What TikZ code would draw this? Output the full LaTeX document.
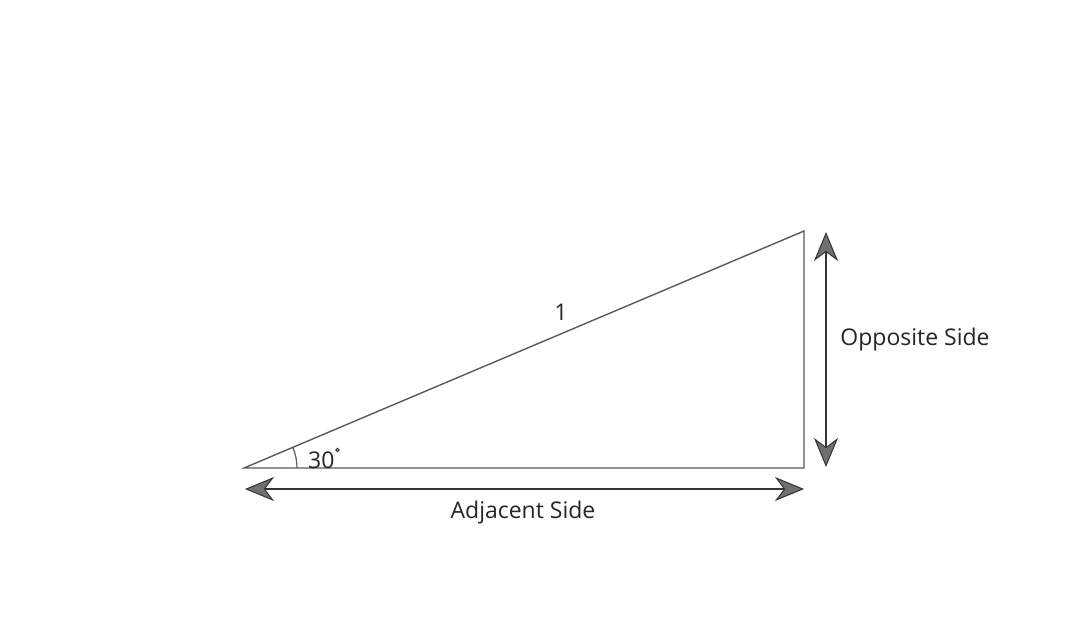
\documentclass[tikz,border=0pt]{standalone}
\usepackage{fontspec}
\setmainfont{Open Sans}
\usetikzlibrary{arrows.meta,calc}
\definecolor{edge}{HTML}{5E5858}
\definecolor{arr}{HTML}{333333}
\definecolor{headfill}{HTML}{707070}
\tikzset{
  side/.style={draw=edge, line width=1.4pt},
  dimarrow/.style={draw=arr, line width=2.2pt,
    {Stealth[length=29pt,width=24pt,inset=9pt,fill=headfill,line width=1pt]}-{Stealth[length=29pt,width=24pt,inset=9pt,fill=headfill,line width=1pt]}},
  lbl/.style={font=\fontsize{23pt}{27pt}\selectfont, text=black!85, inner sep=0pt},
}
\begin{document}
\begin{tikzpicture}[x=1pt,y=-1pt]
  \useasboundingbox (0,0) rectangle (1080,622);
  \fill[white] (0,0) rectangle (1080,622);
  \coordinate (A) at (244,468);
  \coordinate (B) at (804,468);
  \coordinate (C) at (804,231);
  \draw[side] (A) -- (B) -- (C) -- cycle;
  % angle arc
  \draw[edge, line width=1.2pt] ($(A)+(53,0)$) arc[start angle=0, end angle=-23, radius=53];
  \node[lbl, anchor=base west] (ang) at (308,468) {30};
  \draw[black!80, line width=1.1pt] (337.5,450) circle[radius=1.6];
  \node[lbl] (one) at (561,312) {1};
  % dimension arrows
  \coordinate (H1) at (245,489);
  \coordinate (H2) at (804,489);
  \draw[dimarrow] (H1) -- (H2);
  \coordinate (V1) at (826,232);
  \coordinate (V2) at (826,467);
  \draw[dimarrow] (V1) -- (V2);
  \node[lbl] (adj) at (523,513) {Adjacent Side};
  \node[lbl] (opp) at (915,340) {Opposite Side};
\end{tikzpicture}
\end{document}
